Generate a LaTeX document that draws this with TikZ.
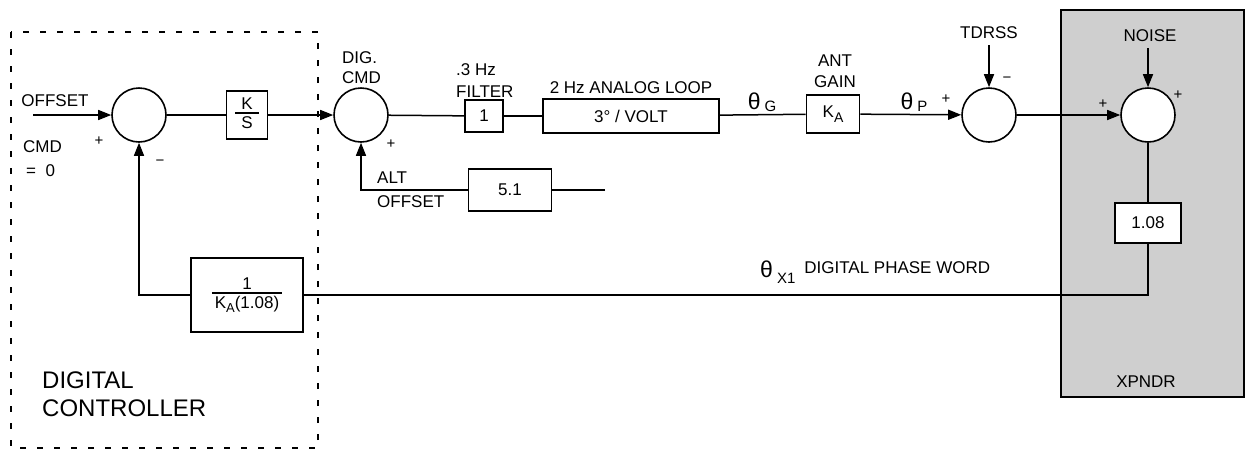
\documentclass[tikz,border=0pt]{standalone}
\usepackage{fontspec}
\setmainfont{Liberation Sans}
\usetikzlibrary{arrows.meta}

\tikzset{
  sumnode/.style={draw, circle, line width=1.6pt, minimum size=54pt, inner sep=0pt},
  blk/.style={draw, line width=1.6pt, inner sep=0pt, font=\fontsize{17}{20}\selectfont},
  lbl/.style={inner sep=0pt, font=\fontsize{17}{21}\selectfont, align=center},
  sgn/.style={inner sep=0pt, font=\fontsize{15}{15}\selectfont},
  sig/.style={line width=1.5pt},
  arr/.style={sig, -{Triangle[length=13pt,width=10pt]}},
}
% theta with a lowered subscript
\newcommand{\thsub}[2]{{\fontsize{23}{23}\selectfont θ}\kern4pt\raisebox{#2}{\fontsize{15}{15}\selectfont #1}}
% stacked fraction with a heavy bar
\setlength{\arrayrulewidth}{1.3pt}
\newcommand{\blkfrac}[3]{\begin{tabular}{@{\hspace{#3}}c@{\hspace{#3}}}#1\\[-3pt]\hline\rule{0pt}{15pt}#2\end{tabular}}

\begin{document}
\begin{tikzpicture}[x=1pt, y=-1pt]
  \useasboundingbox (0,0) rectangle (1249,451);

  % ========== XPNDR (shaded) ==========
  \filldraw[fill=black!19, line width=1.6pt] (1061,10) rectangle (1244,397);
  \node[lbl] (xpndr) at (1146,382) {XPNDR};

  % ========== digital controller border ==========
  \draw[line width=2pt, dash pattern=on 6pt off 11pt] (11,32) rectangle (318,448);
  \node[lbl, anchor=west, align=left, font=\fontsize{24}{28}\selectfont] (dctl) at (42,394) {DIGITAL\\CONTROLLER};

  % ========== forward path ==========
  \coordinate (cmdin) at (33,115);
  \node[sumnode] (sumA) at (139,115) {};
  \node[blk, minimum width=41pt, minimum height=48pt] (ks) at (247,115) {\blkfrac{K}{S}{6pt}};
  \node[sumnode] (sumB) at (361,115) {};
  \node[blk, minimum width=38pt, minimum height=32pt] (filt) at (484,116) {1};
  \node[blk, minimum width=176pt, minimum height=34pt] (loop) at (631,116) {3° / VOLT};
  \node[blk, minimum width=53pt, minimum height=38pt] (ka) at (833,114) {K\raisebox{-5pt}{\fontsize{14}{14}\selectfont A}};
  \node[sumnode] (sumC) at (989,115) {};
  \node[sumnode, fill=white] (sumD) at (1148,115) {};

  % ========== side inputs ==========
  \node[blk, minimum width=83pt, minimum height=42pt] (alt) at (510,190) {5.1};
  \coordinate (altend) at (605,190);
  \node[lbl] (tdrss) at (989,33) {TDRSS};
  \node[lbl] (noise) at (1150,36) {NOISE};

  % ========== feedback path ==========
  \node[blk, fill=white, minimum width=66pt, minimum height=40pt] (g108) at (1148,223) {1.08};
  \node[blk, minimum width=112pt, minimum height=74pt] (fb) at (247,295)
       {\blkfrac{1}{K\raisebox{-4pt}{\fontsize{13}{13}\selectfont A}(1.08)}{3pt}};

  % connectors
  \draw[arr] (cmdin) -- (sumA);
  \draw[sig] (sumA) -- (ks);
  \draw[arr] (ks) -- (sumB);
  \draw[sig] (sumB) -- (filt);
  \draw[sig] (filt) -- (loop);
  \draw[sig] (loop) -- (ka);
  \draw[arr] (ka) -- (sumC);
  \draw[arr] (sumC) -- (sumD);
  \draw[arr] ([yshift=-6pt]tdrss.south -| sumC.north) -- (sumC.north);
  \draw[arr] ([yshift=-6pt]noise.south -| sumD.north) -- (sumD.north);
  \draw[sig] (altend) -- (alt.east);
  \draw[arr] (alt.west) -| (sumB.south);
  \draw[sig] (sumD.south) -- (g108.north);
  \draw[sig] (g108.south) |- (fb.east);
  \draw[arr] (fb.west) -| (sumA.south);

  % ========== labels ==========
  \node[lbl] (offset) at (55,101) {OFFSET};
  \node[lbl, anchor=west] (cmd) at (23,147) {CMD};
  \node[lbl, anchor=west] (eqz) at (26,171) {=\ \ 0};
  \node[sgn] (plusA) at (99,141) {+};
  \node[sgn] (minusA) at (160,163) {−};
  \node[lbl, anchor=west, align=left, font=\fontsize{17}{20}\selectfont] (digcmd) at (342,68) {DIG.\\CMD};
  \node[sgn] (plusB) at (391,144) {+};
  \node[lbl, anchor=west, align=left, font=\fontsize{17}{22}\selectfont] (filtlbl) at (456,81) {.3 Hz\\FILTER};
  \node[lbl] (looplbl) at (631,88) {2 Hz ANALOG LOOP};
  \node[lbl] (thG) at (762,102) {\thsub{G}{-2pt}};
  \node[lbl] (antgain) at (835,71) {ANT\\GAIN};
  \node[lbl] (thP) at (914,102) {\thsub{P}{-2pt}};
  \node[sgn] (plusC) at (946,99) {+};
  \node[sgn] (minusC) at (1007,80) {−};
  \node[sgn] (plusD) at (1103,104) {+};
  \node[sgn] (plusE) at (1178,95) {+};
  \node[lbl, anchor=west, align=left, font=\fontsize{17}{24}\selectfont] (altlbl) at (377,190) {ALT\\OFFSET};
  \node[lbl, anchor=base west] (phase) at (760,273)
       {\raisebox{-4pt}{\thsub{X1}{-6pt}}\hspace{9pt}DIGITAL PHASE WORD};

\end{tikzpicture}
\end{document}
